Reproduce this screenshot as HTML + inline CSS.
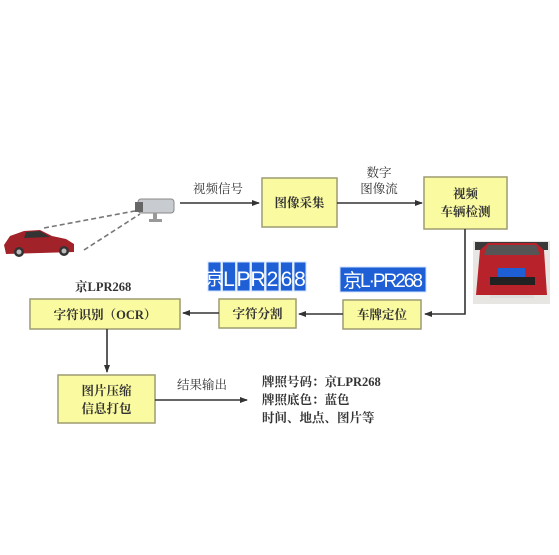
<!DOCTYPE html>
<html><head><meta charset="utf-8"><style>
html,body{margin:0;padding:0;background:#fff;}
svg{display:block;}
text{font-family:"Liberation Serif","Noto Serif CJK SC","Noto Sans CJK SC",serif;fill:#333;}
.b{fill:#fafaa0;stroke:#9c9c70;stroke-width:1.5;}
.l{stroke:#333;stroke-width:1.6;fill:none;}
.bl{font-size:12.5px;font-weight:bold;}
.pl{font-family:"Liberation Sans","Noto Sans CJK SC",sans-serif;fill:#fff;}
.t{fill:#1e5fd6;stroke:#cfe0ff;stroke-width:1;}
</style></head><body>
<svg width="559" height="555" viewBox="0 0 559 555">
<defs><marker id="a" markerWidth="8" markerHeight="8" refX="7" refY="4" orient="auto" markerUnits="userSpaceOnUse"><path d="M0,1 L8,4 L0,7 Z" fill="#333"/></marker></defs>

<g>
<path d="M4,245 L10,236 L24,231 L40,230 L52,236 L66,239 L74,244 L74,252 L6,254 Z" fill="#a2222a"/>
<path d="M26,232 L40,231 L50,237 L24,238 Z" fill="#333"/>
<circle cx="19" cy="252" r="5" fill="#333"/><circle cx="19" cy="252" r="2.5" fill="#bbb"/>
<circle cx="64" cy="251" r="5" fill="#333"/><circle cx="64" cy="251" r="2.5" fill="#bbb"/>
</g>
<path d="M44,228 L140,210" stroke="#777" stroke-width="1.6" stroke-dasharray="5,3"/>
<path d="M84,250 L140,214" stroke="#777" stroke-width="1.6" stroke-dasharray="5,3"/>
<g>
<rect x="138" y="199" width="36" height="14" rx="3" fill="#c8ccd0" stroke="#888"/>
<rect x="135" y="202" width="8" height="10" fill="#666"/>
<rect x="153" y="213" width="4" height="7" fill="#999"/>
<rect x="149" y="219" width="13" height="3" fill="#999"/>
</g>

<rect class="b" x="262" y="178" width="75" height="49"/>
<text class="bl" x="299.5" y="207" text-anchor="middle">图像采集</text>
<rect class="b" x="424" y="177" width="83" height="52"/>
<text class="bl" x="465.5" y="198" text-anchor="middle">视频</text>
<text class="bl" x="465.5" y="216" text-anchor="middle">车辆检测</text>
<rect class="b" x="30" y="299" width="150" height="30"/>
<text class="bl" x="105" y="319" text-anchor="middle">字符识别（OCR）</text>
<rect class="b" x="219" y="299" width="77" height="29"/>
<text class="bl" x="257.5" y="318" text-anchor="middle">字符分割</text>
<rect class="b" x="343" y="300" width="78" height="29"/>
<text class="bl" x="382" y="319" text-anchor="middle">车牌定位</text>
<rect class="b" x="58" y="375" width="97" height="48"/>
<text class="bl" x="106.5" y="395" text-anchor="middle">图片压缩</text>
<text class="bl" x="106.5" y="413" text-anchor="middle">信息打包</text>

<line class="l" x1="180" y1="203" x2="259" y2="203" marker-end="url(#a)"/>
<text x="218" y="193" font-size="12.5" text-anchor="middle">视频信号</text>
<line class="l" x1="337" y1="203" x2="422" y2="203" marker-end="url(#a)"/>
<text x="379" y="177" font-size="12.5" text-anchor="middle">数字</text>
<text x="379" y="193" font-size="12.5" text-anchor="middle">图像流</text>
<path class="l" d="M465,229 L465,314 L425,314" marker-end="url(#a)"/>
<line class="l" x1="343" y1="314" x2="299" y2="314" marker-end="url(#a)"/>
<line class="l" x1="219" y1="313" x2="183" y2="313" marker-end="url(#a)"/>
<line class="l" x1="107" y1="329" x2="107" y2="372" marker-end="url(#a)"/>
<line class="l" x1="155" y1="400" x2="247" y2="400" marker-end="url(#a)"/>
<text x="202" y="389" font-size="12.5" text-anchor="middle">结果输出</text>

<text class="bl" x="75" y="291">京LPR268</text>
<text class="bl" x="262" y="386">牌照号码：京LPR268</text>
<text class="bl" x="262" y="404">牌照底色：蓝色</text>
<text class="bl" x="262" y="422">时间、地点、图片等</text>

<g>
<rect class="t" x="208" y="262" width="13" height="29"/>
<rect class="t" x="222.5" y="262" width="13" height="29"/>
<rect class="t" x="237" y="262" width="13" height="29"/>
<rect class="t" x="251.5" y="262" width="13" height="29"/>
<rect class="t" x="266" y="262" width="13" height="29"/>
<rect class="t" x="280.5" y="262" width="12" height="29"/>
<rect class="t" x="294" y="262" width="12" height="29"/>
<text class="pl" x="214.5" y="285" font-size="18" text-anchor="middle">京</text>
<text class="pl" x="229" y="286" font-size="21" text-anchor="middle">L</text>
<text class="pl" x="243.5" y="286" font-size="21" text-anchor="middle">P</text>
<text class="pl" x="258" y="286" font-size="21" text-anchor="middle">R</text>
<text class="pl" x="272.5" y="286" font-size="21" text-anchor="middle">2</text>
<text class="pl" x="286.5" y="286" font-size="21" text-anchor="middle">6</text>
<text class="pl" x="300" y="286" font-size="21" text-anchor="middle">8</text>
</g>
<rect class="t" x="340" y="267" width="86" height="25"/>
<text class="pl" x="383" y="287" font-size="19" text-anchor="middle" textLength="80">京L·PR268</text>

<g>
<rect x="473" y="241" width="77" height="63" fill="#e8e6e2"/>
<rect x="475" y="242" width="73" height="8" fill="#3a3a3a"/>
<path d="M480,250 L488,243 L536,243 L544,250 L547,295 L476,295 Z" fill="#b8222a"/>
<path d="M488,245 L536,245 L540,255 L484,255 Z" fill="#555"/>
<rect x="498" y="268" width="27" height="9" fill="#1e5fd6"/>
<rect x="490" y="277" width="45" height="8" fill="#222"/>
<rect x="490" y="295" width="44" height="3" fill="#ddd"/>
</g>
</svg>
</body></html>
